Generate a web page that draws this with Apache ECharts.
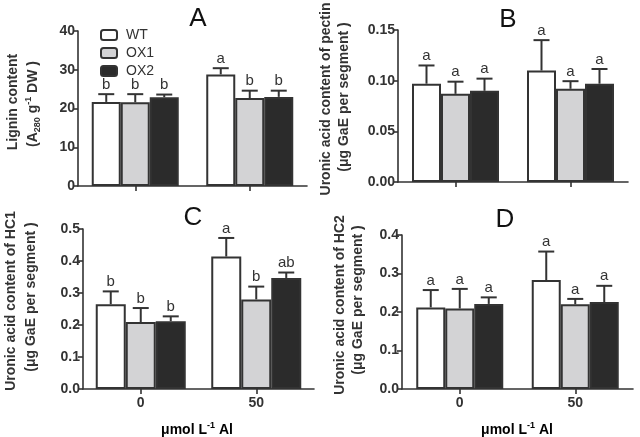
<!DOCTYPE html>
<html>
<head>
<meta charset="utf-8">
<script src="https://cdn.jsdelivr.net/npm/echarts@6/dist/echarts.min.js"></script>
<style>html,body{margin:0;padding:0;background:#fff;}#c{width:640px;height:437px;}</style>
</head>
<body>
<div id="c"></div>
<script>
// ---- data ----
var categories = ['0', '50'];
var groups = ['WT', 'OX1', 'OX2'];

// Panel A: lignin content
var A_WT = [21.7, 28.8], A_OX1 = [21.6, 22.7], A_OX2 = [22.9, 23.0];
var A_WT_sd = [2.0, 1.6], A_OX1_sd = [2.1, 1.9], A_OX2_sd = [0.7, 1.6];
var A_WT_sig = ['b', 'a'], A_OX1_sig = ['b', 'b'], A_OX2_sig = ['b', 'b'];

// Panel B: uronic acid of pectin
var B_WT = [0.097, 0.110], B_OX1 = [0.087, 0.092], B_OX2 = [0.090, 0.097];
var B_WT_sd = [0.018, 0.030], B_OX1_sd = [0.012, 0.0075], B_OX2_sd = [0.012, 0.0145];
var B_WT_sig = ['a', 'a'], B_OX1_sig = ['a', 'a'], B_OX2_sig = ['a', 'a'];

// Panel C: uronic acid of HC1
var C_WT = [0.265, 0.414], C_OX1 = [0.209, 0.280], C_OX2 = [0.212, 0.347];
var C_WT_sd = [0.040, 0.058], C_OX1_sd = [0.044, 0.040], C_OX2_sd = [0.015, 0.017];
var C_WT_sig = ['b', 'a'], C_OX1_sig = ['b', 'b'], C_OX2_sig = ['b', 'ab'];

// Panel D: uronic acid of HC2
var D_WT = [0.212, 0.283], D_OX1 = [0.209, 0.220], D_OX2 = [0.221, 0.226];
var D_WT_sd = [0.045, 0.074], D_OX1_sd = [0.051, 0.014], D_OX2_sd = [0.017, 0.042];
var D_WT_sig = ['a', 'a'], D_OX1_sig = ['a', 'a'], D_OX2_sig = ['a', 'a'];

// axis ticks
var A_ticks = {max: 40, interval: 10, dec: 0};
var B_ticks = {max: 0.15, interval: 0.05, dec: 2};
var C_ticks = {max: 0.5, interval: 0.1, dec: 1};
var D_ticks = {max: 0.4, interval: 0.1, dec: 1};

// ---- build ----
var FONT = 'Liberation Sans, Arial, Helvetica, sans-serif';
var INK = '#333';
var fills = ['#ffffff', '#d3d3d5', '#2b2b2b'];

var panels = [
  {means: [A_WT, A_OX1, A_OX2], sds: [A_WT_sd, A_OX1_sd, A_OX2_sd], sig: [A_WT_sig, A_OX1_sig, A_OX2_sig], ticks: A_ticks,
   grid: {left: 78, top: 31, width: 229, height: 155}, bw: 29, showX: false},
  {means: [B_WT, B_OX1, B_OX2], sds: [B_WT_sd, B_OX1_sd, B_OX2_sd], sig: [B_WT_sig, B_OX1_sig, B_OX2_sig], ticks: B_ticks,
   grid: {left: 398, top: 30, width: 230, height: 152}, bw: 29, showX: false},
  {means: [C_WT, C_OX1, C_OX2], sds: [C_WT_sd, C_OX1_sd, C_OX2_sd], sig: [C_WT_sig, C_OX1_sig, C_OX2_sig], ticks: C_ticks,
   grid: {left: 83, top: 229, width: 231, height: 160}, bw: 30, showX: true},
  {means: [D_WT, D_OX1, D_OX2], sds: [D_WT_sd, D_OX1_sd, D_OX2_sd], sig: [D_WT_sig, D_OX1_sig, D_OX2_sig], ticks: D_ticks,
   grid: {left: 402, top: 235, width: 231, height: 154}, bw: 29, showX: true}
];

var grid = [], xAxis = [], yAxis = [], series = [];
panels.forEach(function (p, i) {
  grid.push(p.grid);
  xAxis.push({
    type: 'category', gridIndex: i, data: categories,
    axisLine: {lineStyle: {color: INK, width: 1.6}},
    axisTick: {show: true, alignWithLabel: true, length: 5, lineStyle: {color: INK, width: 1.6}},
    axisLabel: {show: p.showX, margin: 7, color: INK, fontFamily: FONT, fontWeight: 'bold', fontSize: 14},
    splitLine: {show: false}
  });
  var dec = p.ticks.dec;
  yAxis.push({
    type: 'value', gridIndex: i, min: 0, max: p.ticks.max, interval: p.ticks.interval,
    axisLine: {show: true, lineStyle: {color: INK, width: 1.6}},
    axisTick: {show: true, length: 5, lineStyle: {color: INK, width: 1.6}},
    axisLabel: {margin: 3, color: INK, fontFamily: FONT, fontWeight: 'bold', fontSize: 14,
      formatter: function (v) { return v.toFixed(dec); }},
    splitLine: {show: false}
  });
  groups.forEach(function (g, k) {
    series.push({
      name: g, type: 'bar', xAxisIndex: i, yAxisIndex: i, data: p.means[k],
      barWidth: p.bw, barGap: '0%',
      itemStyle: {color: fills[k], borderColor: INK, borderWidth: 2},
      z: 2
    });
  });
  groups.forEach(function (g, k) {
    var bw = p.bw;
    var data = p.means[k].map(function (m, ci) { return [ci, m, m + p.sds[k][ci]]; });
    var letters = p.sig[k];
    series.push({
      name: 'err_' + g, type: 'custom', xAxisIndex: i, yAxisIndex: i, data: data,
      encode: {x: 0, y: [1, 2]}, z: 3, silent: true,
      renderItem: function (params, api) {
        var ci = api.value(0);
        var p0 = api.coord([ci, api.value(1)]);
        var p1 = api.coord([ci, api.value(2)]);
        var x = p0[0] + (k - 1) * bw;
        return {type: 'group', children: [
          {type: 'line', shape: {x1: x, y1: p0[1], x2: x, y2: p1[1]}, style: {stroke: INK, lineWidth: 2}},
          {type: 'line', shape: {x1: x - 8, y1: p1[1], x2: x + 8, y2: p1[1]}, style: {stroke: INK, lineWidth: 2}},
          {type: 'text', x: x, y: p1[1] - 2, style: {text: letters[params.dataIndex], textAlign: 'center', textVerticalAlign: 'bottom',
            align: 'center', verticalAlign: 'bottom', fontFamily: FONT, fontSize: 15, fill: INK}}
        ]};
      }
    });
  });
});

function vtext(x, y, text, rich) {
  return {type: 'text', x: x, y: y, rotation: Math.PI / 2, z: 10,
    style: {text: text, rich: rich || {}, textAlign: 'center', textVerticalAlign: 'middle', align: 'center', verticalAlign: 'middle',
      fontFamily: FONT, fontWeight: 'bold', fontSize: 14, fill: INK}};
}
function htext(x, y, text, size, weight, rich) {
  return {type: 'text', x: x, y: y, z: 10,
    style: {text: text, rich: rich || {}, textAlign: 'center', textVerticalAlign: 'middle', align: 'center', verticalAlign: 'middle',
      fontFamily: FONT, fontWeight: weight, fontSize: size, fill: '#111'}};
}
var richSS = {
  n: {fontFamily: FONT, fontWeight: 'bold', fontSize: 14, color: INK, lineHeight: 18, verticalAlign: 'middle'},
  sub: {fontFamily: FONT, fontWeight: 'bold', fontSize: 9, color: INK, lineHeight: 18, verticalAlign: 'bottom', padding: [0, 0, 0, 0]},
  sup: {fontFamily: FONT, fontWeight: 'bold', fontSize: 9, color: INK, lineHeight: 18, verticalAlign: 'top'}
};

var graphic = [
  htext(198, 19, 'A', 26, 'normal'),
  htext(508, 20, 'B', 26, 'normal'),
  htext(193, 218, 'C', 26, 'normal'),
  htext(505, 220, 'D', 26, 'normal'),
  vtext(13, 102, 'Lignin content'),
  vtext(33, 104, '{n|(A}{sub|280}{n| g}{sup|-1}{n| DW )}', richSS),
  vtext(326, 99, 'Uronic acid content of pectin'),
  {type: 'rect', shape: {x: 309, y: 0, width: 10, height: 196}, style: {fill: '#fff'}, z: 11},
  vtext(344, 97, '(μg GaE per segment )'),
  vtext(11, 301, 'Uronic acid content of HC1'),
  vtext(31, 297, '(μg GaE per segment )'),
  vtext(340, 305, 'Uronic acid content of HC2'),
  vtext(358, 300, '(μg GaE per segment )'),
  {type: 'text', x: 197, y: 430, z: 10, style: {text: '{n|μmol L}{sup|-1}{n| Al}', rich: richSS, textAlign: 'center', textVerticalAlign: 'middle', align: 'center', verticalAlign: 'middle'}},
  {type: 'text', x: 517, y: 430, z: 10, style: {text: '{n|μmol L}{sup|-1}{n| Al}', rich: richSS, textAlign: 'center', textVerticalAlign: 'middle', align: 'center', verticalAlign: 'middle'}}
];

var chart = echarts.init(document.getElementById('c'), null, {renderer: 'canvas'});
chart.setOption({
  animation: false,
  backgroundColor: '#fff',
  grid: grid, xAxis: xAxis, yAxis: yAxis, series: series,
  legend: {
    data: groups, orient: 'vertical', left: 95, top: 23, itemWidth: 16, itemHeight: 10, itemGap: 4,
    textStyle: {fontFamily: FONT, fontSize: 14, color: INK, padding: [0, 0, 0, 4]},
    selectedMode: false
  },
  graphic: graphic
});
</script>
</body>
</html>
